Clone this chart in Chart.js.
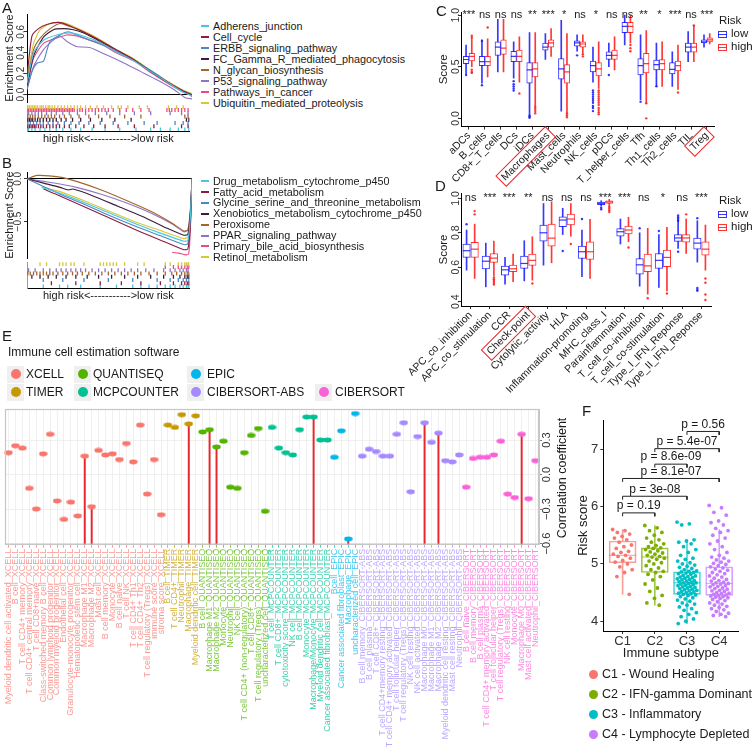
<!DOCTYPE html>
<html><head><meta charset="utf-8">
<script src="https://cdn.jsdelivr.net/npm/chart.js@4.4.1/dist/chart.umd.min.js"></script>
<style>
html,body{margin:0;padding:0;background:#fff;}
body{width:753px;height:756px;position:relative;overflow:hidden;font-family:"Liberation Sans",Arial,Helvetica,sans-serif;color:#1a1a1a;}
canvas{position:absolute;}
.t{position:absolute;white-space:nowrap;}
</style></head><body>
<script>
// ================= DATA =================
// ---- Panel A: GSEA running enrichment score (rank %, ES) ----
const gseaNamesA = ['Adherens_junction','Cell_cycle','ERBB_signaling_pathway','FC_Gamma_R_mediated_phagocytosis','N_glycan_biosynthesis','P53_signaling_pathway','Pathways_in_cancer','Ubiquitin_mediated_proteolysis'];
const esAdherens = [[0,0.11],[4,0.40],[10,0.52],[18,0.57],[26,0.59],[34,0.56],[44,0.50],[54,0.41],[65,0.32],[75,0.22],[85,0.12],[95,0.02],[100,-0.01]];
const esCellCycle = [[0,0.17],[3,0.56],[7,0.63],[12,0.67],[19,0.69],[24,0.67],[34,0.60],[44,0.52],[54,0.43],[65,0.33],[75,0.22],[85,0.12],[95,0.03],[100,0]];
const esErbb = [[0,0.05],[3,0.22],[6,0.30],[10,0.32],[12,0.42],[14,0.51],[20,0.57],[25,0.60],[30,0.57],[38,0.52],[48,0.46],[59,0.38],[69,0.29],[79,0.19],[89,0.08],[97,0.02],[100,-0.02]];
const esFcGamma = [[0,0.08],[4,0.37],[10,0.55],[16,0.62],[22,0.63],[28,0.62],[34,0.59],[44,0.51],[54,0.42],[65,0.33],[75,0.22],[85,0.12],[95,0.03],[100,0]];
const esNGlycan = [[0,0.14],[4,0.43],[8,0.54],[14,0.63],[20,0.68],[26,0.65],[34,0.60],[44,0.52],[54,0.43],[65,0.33],[75,0.22],[85,0.12],[95,0.03],[100,0]];
const esP53 = [[0,0.05],[4,0.27],[10,0.43],[16,0.52],[20,0.56],[24,0.51],[30,0.46],[38,0.45],[48,0.38],[59,0.30],[69,0.22],[79,0.14],[89,0.05],[96,-0.03],[100,-0.04]];
const esPathways = [[0,0.06],[4,0.35],[10,0.49],[16,0.53],[24,0.57],[30,0.56],[36,0.53],[44,0.49],[54,0.40],[65,0.32],[75,0.21],[85,0.11],[95,0.02],[100,-0.01]];
const esUbiquitin = [[0,0.17],[4,0.49],[8,0.62],[14,0.68],[19,0.69],[24,0.68],[34,0.61],[44,0.53],[54,0.43],[65,0.34],[75,0.23],[85,0.13],[95,0.04],[100,0.01]];
const hitsAdherens = [1,3,5,8,11,14,18,22,27,33,40,48,57,67,76,82,88,93,97,99.5];
const hitsCellCycle = [0.5,1.5,2.5,3.5,4.5,5.5,7,8.5,10,12,14,16,18,20,23,26,30,35,41,48,56,66,78,95,99];
const hitsErbb = [0.5,2,4,6,8,10,13,16,19,23,27,32,38,45,53,62,72,80,91,96,99];
const hitsFcGamma = [0.5,1.5,2.5,3.5,5,6.5,8,10,12,14,16,18,21,24,28,33,39,46,54,64,98,99.5];
const hitsNGlycan = [0.5,2,3.5,5,7,9,11,13,15,17,20,23,27,32,38,44,51,60,70,97,99];
const hitsP53 = [1,3,5,7,9,12,15,18,22,26,31,36,42,49,57,66,76,88,95,99];
const hitsPathways = [0,1,2,3,4,5,6,7,8,9,10,11,12,13,14,15,16,17,18,19,20,21,22,23,24,25,26,27,28,29,31,32.5,34,36,38,40,42,44,46,48,50,53,57,61,65,70,75,86,87.5,89,91,93,95,97,99];
const hitsUbiquitin = [0.5,1.5,2.5,3.5,4.5,5.5,6.5,8,9,10,11.5,13,14,15.5,17,19,21,23,25,27,29,31,33,36,39,43,47,52,56,58,62,69,74,87,92,96];

// ---- Panel B ----
const gseaNamesB = ['Drug_metabolism_cytochrome_p450','Fatty_acid_metabolism','Glycine_serine_and_threonine_metabolism','Xenobiotics_metabolism_cytochrome_p450','Peroxisome','PPAR_signaling_pathway','Primary_bile_acid_biosynthesis','Retinol_metabolism'];
const esDrug = [[9,-0.10],[20,-0.17],[35,-0.28],[50,-0.40],[65,-0.52],[80,-0.63],[95,-0.73],[97.5,-0.72],[99,-0.45],[100,0]];
const esFatty = [[10,-0.12],[20,-0.20],[35,-0.33],[50,-0.46],[65,-0.59],[80,-0.71],[95,-0.83],[97.5,-0.82],[99,-0.55],[100,0]];
const esGlycine = [[0,0],[9,-0.08],[20,-0.18],[35,-0.30],[50,-0.43],[65,-0.55],[80,-0.66],[95,-0.77],[97.5,-0.76],[99,-0.50],[100,0]];
const esXeno = [[0,0],[10,-0.05],[20,-0.10],[25,-0.13],[28,-0.12],[40,-0.20],[55,-0.32],[70,-0.44],[85,-0.58],[95,-0.66],[97.5,-0.65],[99,-0.40],[100,0]];
const esPerox = [[0,0],[6,0.04],[20,0.02],[30,-0.03],[45,-0.13],[60,-0.25],[75,-0.38],[88,-0.52],[95,-0.61],[97.5,-0.60],[99,-0.40],[100,0]];
const esPpar = [[0,0],[10,-0.03],[20,-0.06],[30,-0.10],[45,-0.18],[60,-0.28],[75,-0.40],[88,-0.53],[95,-0.62],[97.5,-0.60],[99,-0.35],[100,0]];
const esBile = [[88,-0.86],[92,-0.87],[96,-0.89],[98,-0.88],[99,-0.60],[100,0]];
const esRetinol = [[9,-0.10],[20,-0.15],[35,-0.26],[50,-0.38],[65,-0.50],[80,-0.60],[95,-0.70],[97.5,-0.68],[99,-0.40],[100,0]];
const hitsDrug = [10,20,25,33,45,55,65,70,75,80,85,88,91,94,96,98,99,99.5];
const hitsFatty = [15,30,45,58,70,82,90,95,97,98.5,99.5];
const hitsGlycine = [10,22,35,50,65,80,88,93,96,98,99.5];
const hitsXeno = [3,8,13,18,24,30,37,44,52,60,68,76,84,90,94,97,98.5,99.5];
const hitsPerox = [0.5,2,4,6,8,10,12,14,16,19,22,25,28,31,34,38,42,46,50,54,58,62,66,70,75,80,85,89,92,95,97,98.5,99.5];
const hitsPpar = [1,5,10,14,18,21,24,27,30,33,36,40,44,48,52,56,60,64,68,73,78,84,88,91,94,96,98,99];
const hitsBile = [85,90,93,95,97,98.5,99.5];
const hitsRetinol = [8,12,20,22,24,27,29,35,45,47,49,51,53,55,60,68,72,85,88,93,95,97,98,99,99.5];

// ---- Panel C: immune cell scores [min,q1,median,q3,max] ----
const cCats = ['aDCs','B_cells','CD8+_T_cells','DCs','iDCs','Macrophages','Mast_cells','Neutrophils','NK_cells','pDCs','T_helper_cells','Tfh','Th1_cells','Th2_cells','TIL','Treg'];
const cLowStats = [[0.43,0.53,0.57,0.60,0.71],[0.34,0.51,0.55,0.60,0.76],[0.45,0.61,0.69,0.74,0.96],[0.39,0.55,0.60,0.65,0.74],[0.03,0.34,0.47,0.54,0.83],[0.57,0.66,0.69,0.73,0.82],[0.07,0.38,0.48,0.58,0.95],[0.65,0.70,0.73,0.75,0.81],[0.35,0.45,0.51,0.555,0.69],[0.50,0.57,0.61,0.645,0.73],[0.71,0.83,0.89,0.93,1.00],[0.18,0.42,0.51,0.58,0.81],[0.31,0.47,0.52,0.565,0.73],[0.31,0.43,0.475,0.54,0.645],[0.55,0.64,0.69,0.73,0.84],[0.69,0.73,0.74,0.76,0.81]];
const cHighStats = [[0.50,0.555,0.60,0.63,0.77],[0.40,0.51,0.55,0.60,0.77],[0.45,0.62,0.68,0.76,0.96],[0.35,0.55,0.60,0.66,0.79],[0.12,0.40,0.48,0.54,0.83],[0.60,0.69,0.73,0.76,0.87],[0.06,0.34,0.45,0.52,0.82],[0.63,0.69,0.72,0.74,0.81],[0.29,0.41,0.48,0.54,0.74],[0.47,0.57,0.61,0.66,0.79],[0.73,0.83,0.89,0.93,1.00],[0.15,0.44,0.53,0.63,0.85],[0.31,0.47,0.53,0.57,0.74],[0.28,0.46,0.51,0.555,0.71],[0.55,0.64,0.69,0.73,0.90],[0.72,0.74,0.76,0.78,0.82]];
const cLowOut = [[0,0.42],[1,0.75],[1,0.32],[3,0.36],[3,0.33],[3,0.31],[3,0.29],[3,0.27],[4,0.025],[4,0.015],[4,0.005],[7,0.61],[8,0.27],[8,0.25],[8,0.23],[8,0.21],[8,0.19],[8,0.17],[8,0.15],[8,0.12],[8,0.10],[8,0.07],[9,0.42],[11,0.16],[12,0.31]];
const cHighOut = [[0,0.80],[0,0.78],[0,0.47],[0,0.45],[0,0.44],[1,0.88],[3,0.24],[4,0.11],[4,0.09],[4,0.07],[4,0.05],[6,0.05],[6,0.03],[6,0.01],[7,0.62],[7,0.60],[8,0.27],[8,0.25],[8,0.23],[8,0.21],[8,0.19],[8,0.17],[8,0.15],[8,0.13],[8,0.10],[8,0.08],[8,0.06],[8,0.04],[10,0.71],[10,0.68],[10,0.65],[11,0.145],[11,0.0],[13,0.25],[14,0.90]];
const cSig = ['***','ns','ns','ns','**','***','*','ns','*','ns','ns','**','*','***','ns','***'];

// ---- Panel D: immune function scores ----
const dCats = ['APC_co_inhibition','APC_co_stimulation','CCR','Check-point','Cytolytic_activity','HLA','Inflammation-promoting','MHC_class_I','Parainflammation','T_cell_co-inhibition','T_cell_co-stimulation','Type_I_IFN_Reponse','Type_II_IFN_Reponse'];
const dLowStats = [[0.583,0.657,0.696,0.735,0.816],[0.486,0.59,0.635,0.665,0.74],[0.502,0.554,0.585,0.607,0.657],[0.521,0.593,0.622,0.665,0.754],[0.612,0.752,0.80,0.845,0.97],[0.79,0.835,0.874,0.893,0.942],[0.545,0.651,0.69,0.723,0.816],[0.955,0.963,0.971,0.979,0.986],[0.735,0.781,0.806,0.824,0.88],[0.49,0.56,0.614,0.651,0.80],[0.483,0.593,0.64,0.68,0.79],[0.709,0.75,0.77,0.79,0.875],[0.63,0.705,0.74,0.77,0.87]];
const dHighStats = [[0.535,0.657,0.705,0.744,0.85],[0.548,0.628,0.653,0.68,0.752],[0.516,0.574,0.591,0.612,0.676],[0.525,0.61,0.64,0.676,0.777],[0.626,0.723,0.769,0.851,0.98],[0.78,0.845,0.88,0.909,0.97],[0.535,0.645,0.69,0.748,0.878],[0.955,0.971,0.979,0.986,0.994],[0.748,0.793,0.816,0.839,0.89],[0.444,0.574,0.608,0.676,0.826],[0.463,0.603,0.657,0.70,0.831],[0.68,0.745,0.77,0.79,0.88],[0.583,0.67,0.705,0.748,0.845]];
const dLowOut = [[0,0.85],[5,0.694],[6,0.88],[7,0.936],[7,0.945],[9,0.826],[10,0.81],[11,0.90],[11,0.89],[11,0.88],[11,0.87],[11,0.69],[12,0.885],[12,0.48],[12,0.47],[12,0.463]];
const dHighOut = [[0,0.926],[0,0.907],[1,0.54],[1,0.53],[1,0.52],[1,0.51],[1,0.50],[3,0.506],[5,0.735],[7,0.95],[7,0.94],[7,0.93],[7,0.92],[8,0.715],[9,0.42],[10,0.448],[11,0.907],[12,0.535],[12,0.51],[12,0.442],[12,0.41]];
const dSig = ['ns','***','***','**','ns','ns','ns','***','***','ns','*','ns','***'];

// ---- Panel E: correlation with risk score ----
const eSoftware = ['XCELL','TIMER','QUANTISEQ','MCPCOUNTER','EPIC','CIBERSORT-ABS','CIBERSORT'];
const eXcellNames = ['Myeloid dendritic cell activated','B cell','T cell CD4+ memory','T cell CD4+ central memory','T cell CD8+naive','Class-switched memory B cell','Common lymphoid progenitor','Common myeloid progenitor','Endothelial cell','Granulocyte-monocyte progenitor','Hematopoietic stem cell','Macrophage M1','Macrophage M2','Mast cell','B cell memory','Monocyte','B cell naive','T cell NK','T cell CD4+ Th1','T cell CD4+ Th2','T cell regulatory (Tregs)','immune score','stroma score'];
const eXcell = [0.19,0.25,0.23,-0.12,-0.30,0.18,0.35,-0.23,-0.39,-0.24,-0.36,0.16,-0.28,0.21,0.17,0.18,0.13,0.27,0.11,0.43,-0.17,0.13,-0.35];
const eTimerNames = ['B cell','T cell CD4+','Neutrophil','Macrophage','Myeloid dendritic cell'];
const eTimer = [0.43,0.41,0.52,0.44,0.51];
const eQuantNames = ['B cell','Macrophage M1','Macrophage M2','Monocyte','Neutrophil','NK cell','T cell CD4+ (non-regulatory)','T cell CD8+','T cell regulatory (Tregs)','uncharacterized cell'];
const eQuant = [0.37,0.39,0.24,0.29,-0.11,-0.12,0.19,0.34,0.40,-0.32];
const eMcpNames = ['T cell','T cell CD8+','cytotoxicity score','NK cell','B cell','Monocyte','Macrophage/Monocyte','Myeloid dendritic cell','Cancer associated fibroblast'];
const eMcp = [0.41,0.23,0.19,0.17,0.39,0.50,0.50,0.30,0.30];
const eEpicNames = ['Bcell','Cancer associated fibroblast','Macrophage','uncharacterized cell'];
const eEpic = [0.15,0.38,-0.56,0.53];
const eAbsNames = ['B cell memory','B cell plasma','T cell CD8+','T cell CD4+memory resting','T cell CD4+ memory activated','T cell follicular helper','T cell regulatory (Tregs)','NK cell resting','NK cell activated','Macrophage M0','Macrophage M1','Macrophage M2','Myeloid dendritic cell resting','Mast cell resting','Neutrophil'];
const eAbs = [0.16,0.22,0.20,0.16,0.16,0.35,0.45,-0.15,0.33,0.45,0.28,0.36,0.12,0.11,0.17];
const eCibNames = ['B cell naive','B cell memory','B cell plasma','T cell CD4+ memory activated','T cell follicular helper','T cell regulatory (Tregs)','NK cell resting','Monocyte','Macrophage M0','Mast cell activated','Neutrophil'];
const eCib = [-0.11,0.14,0.15,0.15,0.17,0.29,-0.17,-0.20,0.35,-0.21,0.12];
const eStemNames = ['Macrophage M1_XCELL','Macrophage M2_XCELL','Macrophage_TIMER','Macrophage M1_QUANTISEQ','Macrophage M2_QUANTISEQ','Macrophage/Monocyte_MCPCOUNTER','Macrophage_EPIC','Macrophage M0_CIBERSORT-ABS','Macrophage M2_CIBERSORT-ABS','Macrophage M0_CIBERSORT'];
const eYTicks = [-0.6,-0.3,0,0.3];

// ---- Panel F: risk score by immune subtype ----
const fGroups = ['C1','C2','C3','C4'];
const fLegend = ['C1 - Wound Healing','C2 - IFN-gamma Dominant','C3 - Inflammatory','C4 - Lymphocyte Depleted'];
const fStats = [[4.47,5.02,5.15,5.40,5.60],[4.28,4.85,5.12,5.28,5.67],[3.96,4.47,4.67,4.86,5.42],[4.08,4.45,4.66,4.95,5.60]];
const fC1 = [5.60,5.58,5.55,5.52,5.48,5.45,5.42,5.38,5.33,5.30,5.27,5.22,5.20,5.17,5.15,5.13,5.10,5.06,5.03,5.00,4.95,4.90,4.85,4.78,4.47];
const fC2 = [5.67,5.63,5.58,5.55,5.50,5.45,5.42,5.38,5.35,5.32,5.30,5.28,5.27,5.25,5.23,5.21,5.19,5.17,5.15,5.13,5.12,5.10,5.08,5.05,5.02,5.00,4.97,4.93,4.90,4.87,4.85,4.82,4.78,4.72,4.65,4.58,4.52,4.45,4.40,4.32,4.28];
const fC3 = [5.73,5.70,5.68,5.42,5.40,5.38,5.35,5.30,5.25,5.20,5.15,5.10,5.08,5.05,5.02,5.00,4.98,4.96,4.94,4.92,4.90,4.88,4.87,4.86,4.85,4.84,4.83,4.82,4.80,4.79,4.78,4.77,4.76,4.75,4.74,4.73,4.72,4.71,4.70,4.69,4.68,4.67,4.67,4.66,4.65,4.64,4.63,4.62,4.61,4.60,4.59,4.58,4.57,4.56,4.55,4.54,4.53,4.52,4.51,4.50,4.49,4.48,4.47,4.46,4.45,4.43,4.41,4.39,4.37,4.35,4.32,4.30,4.28,4.25,4.22,4.19,4.15,4.12,4.08,4.04,4.00,3.96];
const fC4 = [6.02,5.98,5.90,5.85,5.75,5.72,5.68,5.62,5.58,5.55,5.50,5.45,5.40,5.35,5.30,5.25,5.20,5.15,5.12,5.10,5.07,5.05,5.03,5.01,4.99,4.97,4.95,4.93,4.91,4.89,4.87,4.85,4.83,4.81,4.79,4.77,4.75,4.73,4.71,4.70,4.68,4.67,4.66,4.65,4.64,4.62,4.61,4.60,4.58,4.57,4.56,4.54,4.53,4.52,4.50,4.49,4.48,4.47,4.46,4.45,4.44,4.43,4.42,4.41,4.40,4.38,4.36,4.34,4.32,4.30,4.28,4.26,4.24,4.22,4.20,4.17,4.14,4.12,4.10,4.08];
const fPairs = [[1,2],[1,3],[1,4],[2,3],[2,4],[3,4]];
const fPText = ['p = 0.19','p = 3e-08','p = 8.1e-07','p = 8.6e-09','p = 5.4e-07','p = 0.56'];
const fPY = [5.89,6.18,6.49,6.74,7.01,7.31];

// ================= STYLE / HELPERS =================
const FONT = "'Liberation Sans', Arial, Helvetica, sans-serif";
const colGsea = ['#47c7dd','#8c1d40','#4b87c6','#3b1d3c','#a3662b','#8f74c5','#ef4a80','#d8c63b'];
const colLow = 'rgba(20,20,255,0.85)', colHigh = 'rgba(255,20,20,0.85)';
const eColors = ['#F8766D','#C49A00','#53B400','#00C094','#00B6EB','#A58AFF','#FB61D7'];
const fColors = ['#F8766D','#7CAE00','#00BFC4','#C77CFF'];
const fBoxColors = ['rgba(248,118,109,0.7)','rgba(124,174,0,0.7)','rgba(0,191,196,0.7)','rgba(199,124,255,0.7)'];

Chart.defaults.font.family = FONT;
Chart.defaults.color = '#1a1a1a';
Chart.defaults.animation = false;
Chart.defaults.responsive = false;
Chart.defaults.maintainAspectRatio = false;
Chart.defaults.plugins.legend.display = false;
Chart.defaults.plugins.tooltip.enabled = false;
Chart.defaults.events = [];

const annotPlugin = { id:'annot', afterDatasetsDraw(chart, args, o){
  if(!o || !o.items) return; const ctx = chart.ctx; ctx.save();
  ctx.font = o.font; ctx.fillStyle = o.color || '#1a1a1a'; ctx.textAlign='center'; ctx.textBaseline='middle';
  for(const it of o.items){ const px = chart.scales.x.getPixelForValue(it.x), py = chart.scales.y.getPixelForValue(it.y);
    ctx.fillText(it.text, px, py + (o.dy||0)); }
  ctx.restore(); } };
const framePlugin = { id:'frame', afterDraw(chart, args, o){
  if(!o || !o.color) return; const a = chart.chartArea, ctx = chart.ctx; ctx.save();
  ctx.strokeStyle = o.color; ctx.lineWidth = o.width||1; ctx.strokeRect(a.left+0.5, a.top+0.5, a.right-a.left-1, a.bottom-a.top-1); ctx.restore(); } };
const labelBoxPlugin = { id:'labelBox', afterDraw(chart, args, o){
  if(!o || !o.indices) return; const sc = chart.scales.x; const items = sc.getLabelItems(); const ctx = chart.ctx;
  for(const idx of o.indices){ const it = items[idx]; if(!it) continue; ctx.save();
    ctx.translate(it.options.translation[0], it.options.translation[1]); ctx.rotate(it.options.rotation);
    ctx.font = it.font.string; const w = ctx.measureText(it.label).width; const fs = it.font.size;
    ctx.strokeStyle = o.color; ctx.lineWidth = 1;
    ctx.strokeRect(-w-3, it.textOffset - fs/2 - 2, w+6, fs+4); ctx.restore(); } } };
Chart.register(annotPlugin, framePlugin, labelBoxPlugin);

function mkCanvas(l,t,w,h){ const c=document.createElement('canvas'); c.width=w; c.height=h;
  c.style.left=l+'px'; c.style.top=t+'px'; c.style.width=w+'px'; c.style.height=h+'px'; document.body.appendChild(c); return c; }
const fmt1 = v => (v < -1e-9 ? '\u2212' : '') + Math.abs(v).toFixed(1);
const setTicks = arr => s => { s.ticks = arr.map(v => ({value:v})); };
function txt(x, cy, s, size, color){ const d=document.createElement('div'); d.className='t'; d.textContent=s;
  d.style.left=x+'px'; d.style.top=(cy-size*0.5)+'px'; d.style.fontSize=size+'px'; d.style.lineHeight=size+'px';
  if(color) d.style.color=color; document.body.appendChild(d); return d; }
function box(x,y,w,h,css){ const d=document.createElement('div'); d.style.cssText=`position:absolute;left:${x}px;top:${y}px;width:${w}px;height:${h}px;${css}`; document.body.appendChild(d); return d; }

// ================= PANEL A / B =================
function gseaChart(top, h, padT, padB, yMin, yMax, yTicks, curves){
  return new Chart(mkCanvas(0, top, 195, h), { type:'line',
    data:{ datasets: curves.map((d,k)=>({ data:d.map(p=>({x:p[0], y:p[1]})), borderColor:colGsea[k], borderWidth:1.1, pointRadius:0, tension:0.2, fill:false })) },
    options:{ devicePixelRatio:1, layout:{padding:{top:padT, right:3, bottom:padB, left:0}},
      scales:{ x:{type:'linear', min:0, max:100, display:false},
        y:{type:'linear', min:yMin, max:yMax, afterBuildTicks:setTicks(yTicks), afterFit:s=>{s.width=27;},
          border:{display:true, color:'#000', width:1},
          grid:{color:c=>(c.tick && Math.abs(c.tick.value)<1e-9)?'#000':'rgba(0,0,0,0)', lineWidth:1, tickColor:'#333', tickLength:3},
          ticks:{minRotation:90, maxRotation:90, crossAlign:'center', padding:-4, font:{size:10}, color:'#333', callback:v=>fmt1(v)},
          title:{display:true, text:'Enrichment Score', font:{size:11}, color:'#1a1a1a', padding:{top:3, bottom:0}} } } } });
}
function rugChart(top, rows){
  return new Chart(mkCanvas(0, top, 195, 50), { type:'scatter',
    data:{ datasets: rows.map((r,i)=>({ data:r.hits.map(x=>({x, y:i})), pointStyle:'line', pointRotation:90, pointRadius:2, pointBorderColor:r.color, pointBackgroundColor:r.color, pointBorderWidth:1.3 })) },
    options:{ devicePixelRatio:1, layout:{padding:{top:2, right:3, left:0, bottom:0}},
      scales:{ x:{type:'linear', min:0, max:100, afterFit:s=>{s.height=19;}, grid:{display:false}, ticks:{display:false}, border:{display:true, color:'#000'},
          title:{display:true, text:'high risk<----------->low risk', font:{size:11}, color:'#1a1a1a', padding:{top:0, bottom:4}}},
        y:{type:'linear', min:-0.5, max:7.5, reverse:true, afterFit:s=>{s.width=27;}, grid:{display:false}, ticks:{display:false}, border:{display:true, color:'#999'}} } } });
}
gseaChart(0, 104, 14, 2, -0.07, 0.77, [0,0.2,0.4,0.6], [esAdherens, esCellCycle, esErbb, esFcGamma, esNGlycan, esP53, esPathways, esUbiquitin]);
const hitsA = [hitsAdherens, hitsCellCycle, hitsErbb, hitsFcGamma, hitsNGlycan, hitsP53, hitsPathways, hitsUbiquitin];
rugChart(100, hitsA.map((h,k)=>({hits:h, color:colGsea[k]})).reverse());
gseaChart(160, 100, 12, 2, -0.927, 0.08, [-0.5,0], [esDrug, esFatty, esGlycine, esXeno, esPerox, esPpar, esBile, esRetinol]);
const hitsB = [hitsDrug, hitsFatty, hitsGlycine, hitsXeno, hitsPerox, hitsPpar, hitsBile, hitsRetinol];
rugChart(257, hitsB.map((h,k)=>({hits:h, color:colGsea[k]})).reverse());

gseaNamesA.forEach((n,k)=>{ box(201, 26+k*11-1, 8, 2, 'background:'+colGsea[k]); txt(213, 26+k*11, n, 10.8); });
gseaNamesB.forEach((n,k)=>{ box(201, 181+k*10.9-1, 8, 2, 'background:'+colGsea[k]); txt(213, 181+k*10.9, n, 10.8); });

// ================= PANEL C / D =================
function boxChart(o){
  const ds = [];
  [[o.low, o.lowOut, -o.off, colLow], [o.high, o.highOut, o.off, colHigh]].forEach(([st, out, off, col])=>{
    ds.push({type:'scatter', order:0, data:out.map(p=>({x:p[0]+off, y:p[1]})), pointRadius:1.2, pointBackgroundColor:col, pointBorderWidth:0});
    ds.push({type:'scatter', order:1, data:st.map((d,i)=>({x:i+off, y:d[2]})), pointStyle:'line', pointRadius:o.bw/2, pointBorderColor:col, pointBorderWidth:1.2});
    ds.push({type:'bar', order:2, grouped:false, barThickness:o.bw, data:st.map((d,i)=>({x:i+off, y:[d[1], d[3]]})), backgroundColor:'#fff', borderColor:col, borderWidth:1, borderSkipped:false});
    ds.push({type:'bar', order:3, grouped:false, barThickness:1, data:st.map((d,i)=>({x:i+off, y:[d[0], d[4]]})), backgroundColor:col, borderWidth:0});
  });
  return new Chart(mkCanvas(o.left, o.top, o.w, o.h), { type:'bar', data:{datasets:ds},
    options:{ devicePixelRatio:1, layout:{padding:{top:o.padT, right:o.padR, left:0, bottom:0}},
      scales:{ x:{type:'linear', min:-0.5, max:o.cats.length-0.5, offset:false, afterBuildTicks:setTicks(o.cats.map((c,i)=>i)), afterFit:s=>{s.height=o.xh;},
          grid:{drawOnChartArea:false, offset:false, color:'#333', tickLength:3}, border:{display:true, color:'#000'},
          ticks:{autoSkip:false, minRotation:45, maxRotation:45, padding:0, font:{size:10.5}, color:'#1a1a1a', callback:(v,i)=>o.cats[i]}},
        y:{type:'linear', min:o.yMin, max:o.yMax, beginAtZero:false, afterBuildTicks:setTicks(o.yTicks), afterFit:s=>{s.width=o.yw;},
          grid:{drawOnChartArea:false, color:'#333', tickLength:3}, border:{display:true, color:'#000'},
          ticks:{minRotation:90, maxRotation:90, crossAlign:'center', padding:o.tickPad, font:{size:10.5}, color:'#333', callback:v=>v.toFixed(1)},
          title:{display:true, text:'Score', font:{size:11.5}, color:'#1a1a1a', padding:{top:o.titlePad, bottom:0}} } },
      plugins:{ annot:{ font:'11px '+FONT, items:o.cats.map((c,i)=>({x:i, y:o.sigY, text:o.sig[i]})) },
        labelBox:{ indices:o.boxIdx, color:'#e8272a' } } } });
}
boxChart({left:430, top:0, w:290, h:200, padT:12, padR:3, yw:31, xh:73.4, cats:cCats, low:cLowStats, high:cHighStats, lowOut:cLowOut, highOut:cHighOut,
  sig:cSig, sigY:1.0, yMin:-0.08, yMax:1.03, yTicks:[0,0.5,1.0], off:0.18, bw:5.6, titlePad:7, tickPad:-5, boxIdx:[5,15]});
boxChart({left:400, top:180, w:320, h:215, padT:13, padR:9, yw:61, xh:89, cats:dCats, low:dLowStats, high:dHighStats, lowOut:dLowOut, highOut:dHighOut,
  sig:dSig, sigY:1.005, yMin:0.375, yMax:1.031, yTicks:[0.4,0.6,0.8,1.0], off:0.21, bw:7.5, titlePad:37, tickPad:-5, boxIdx:[3]});

function riskLegend(cy){
  txt(719, cy, 'Risk', 11.5);
  [['low', colLow, cy+13],['high', colHigh, cy+26]].forEach(([t,c,y])=>{
    box(718, y-3.5, 9, 7, `box-sizing:border-box;border:1px solid ${c};background:linear-gradient(to bottom,transparent 2.5px,${c} 2.5px,${c} 3.5px,transparent 3.5px);`);
    txt(731, y, t, 11.5);
  });
}
riskLegend(21); riskLegend(201);

// ================= PANEL E =================
const eGroupNames = [eXcellNames, eTimerNames, eQuantNames, eMcpNames, eEpicNames, eAbsNames, eCibNames];
const eGroupVals = [eXcell, eTimer, eQuant, eMcp, eEpic, eAbs, eCib];
const eLabels = [], eValues = [], eGroup = [];
eGroupNames.forEach((names,g)=>names.forEach((n,i)=>{ eLabels.push(n+'_'+eSoftware[g]); eValues.push(eGroupVals[g][i]); eGroup.push(g); }));
const eAxisMin = -0.61, eAxisMax = 0.57;
function ellipseImg(color){ const c=document.createElement('canvas'); c.width=9; c.height=6; const g=c.getContext('2d');
  g.fillStyle=color; g.beginPath(); g.ellipse(4.5,3,4.2,2.4,0,0,Math.PI*2); g.fill(); return c; }
const eImgs = eColors.map(ellipseImg);
const hexA = (h,a)=>{ const n=parseInt(h.slice(1),16); return `rgba(${n>>16},${(n>>8)&255},${n&255},${a})`; };
const eLabelColors = eColors.map(c=>hexA(c,0.75));
const isMajorE = v => eYTicks.some(m=>Math.abs(m-v)<1e-6);
new Chart(mkCanvas(0, 400, 570, 356), { type:'bar',
  data:{ labels:eLabels, datasets:[
    {type:'line', order:0, data:eValues, showLine:false, pointStyle:eGroup.map(g=>eImgs[g]), pointRadius:4},
    {type:'bar', order:1, grouped:false, data:eValues.map((v,i)=>eStemNames.includes(eLabels[i]) ? [eAxisMin, v] : null), backgroundColor:'#e8262b', barThickness:1.3, borderWidth:0}
  ]},
  options:{ devicePixelRatio:1, layout:{padding:{top:9, left:4, right:0, bottom:0}},
    scales:{ x:{type:'category', offset:true, afterFit:s=>{s.height=211.3;},
        grid:{offset:false, color:'#e9e9e9', lineWidth:0.7, tickLength:3, tickColor:c=>eColors[eGroup[c.index]]||'#ccc'},
        border:{display:true, color:'#c6c6c6'},
        ticks:{autoSkip:false, minRotation:90, maxRotation:90, padding:1, font:{size:9}, color:c=>eLabelColors[eGroup[c.index]]||'#999'}},
      y:{position:'right', min:eAxisMin, max:eAxisMax, beginAtZero:false, afterBuildTicks:setTicks([-0.6,-0.45,-0.3,-0.15,0,0.15,0.3,0.45]), afterFit:s=>{s.width=31;},
        grid:{color:'#e9e9e9', lineWidth:0.7, tickLength:3, tickColor:c=>(c.tick && isMajorE(c.tick.value))?'#444':'rgba(0,0,0,0)'},
        border:{display:true, color:'#c6c6c6'},
        ticks:{minRotation:90, maxRotation:90, crossAlign:'center', padding:-6, font:{size:11}, color:'#333', callback:v=>isMajorE(v)?fmt1(v):''}} },
    plugins:{ frame:{color:'#c6c6c6', width:1.2} } } });
const corrT = txt(562, 478, 'Correlation coefficient', 12.5);
corrT.style.transform='translate(-50%,-50%) rotate(-90deg)'; corrT.style.top='478px'; corrT.style.left='562px';

txt(8, 352, 'Immune cell estimation software', 12);
const eLegPos = [[0,0],[0,1],[1,0],[1,1],[2,0],[2,1],[3,1]];
const eKeyX = [7,74,187,315], eTextX = [26,93,207,335], eRowY = [374,392];
eSoftware.forEach((s,g)=>{ const [c,r] = eLegPos[g];
  box(eKeyX[c], eRowY[r]-8.5, 17, 17, 'background:#efefef');
  box(eKeyX[c]+3.5, eRowY[r]-5, 10, 10, 'border-radius:50%;background:'+eColors[g]);
  txt(eTextX[c], eRowY[r], s, 12); });

// ================= PANEL F =================
const fPoints = [fC1, fC2, fC3, fC4];
const jit = i => (((i*0.6180339887) % 1) - 0.5) * 0.62;
const fDs = [];
fPoints.forEach((pts,g)=>fDs.push({type:'scatter', order:0, data:pts.map((v,i)=>({x:g+1+jit(i), y:v})), pointRadius:1.9, pointBackgroundColor:fColors[g], pointBorderWidth:0}));
fDs.push({type:'scatter', order:1, data:fStats.map((d,i)=>({x:i+1, y:d[2]})), pointStyle:'line', pointRadius:13.5, pointBorderColor:fBoxColors, pointBorderWidth:1});
fDs.push({type:'bar', order:2, grouped:false, barThickness:27, data:fStats.map((d,i)=>({x:i+1, y:[d[1], d[3]]})), backgroundColor:'rgba(255,255,255,0)', borderColor:fBoxColors, borderWidth:1, borderSkipped:false});
fDs.push({type:'bar', order:3, grouped:false, barThickness:1, data:fStats.map((d,i)=>({x:i+1, y:[d[0], d[1]]})), backgroundColor:fBoxColors, borderWidth:0});
fDs.push({type:'bar', order:3, grouped:false, barThickness:1, data:fStats.map((d,i)=>({x:i+1, y:[d[3], d[4]]})), backgroundColor:fBoxColors, borderWidth:0});
fPairs.forEach((p,k)=>{ const y=fPY[k]; fDs.push({type:'line', order:0, data:[{x:p[0], y:y-0.06},{x:p[0], y},{x:p[1], y},{x:p[1], y:y-0.06}], borderColor:'#222', borderWidth:1, pointRadius:0, tension:0, fill:false}); });
new Chart(mkCanvas(570, 400, 183, 265), { type:'bar', data:{datasets:fDs},
  options:{ devicePixelRatio:1, layout:{padding:{top:20, right:1.7, left:0, bottom:0}},
    scales:{ x:{type:'linear', min:0.4, max:4.6, offset:false, afterBuildTicks:setTicks([1,2,3,4]), afterFit:s=>{s.height=34;},
        grid:{drawOnChartArea:false, offset:false, color:'#333', tickLength:3}, border:{display:true, color:'#000'},
        ticks:{padding:0, font:{size:13}, color:'#333', callback:(v,i)=>fGroups[i]},
        title:{display:true, text:'Immune subtype', font:{size:13}, color:'#1a1a1a', padding:{top:0, bottom:4}}},
      y:{type:'linear', min:3.83, max:7.51, beginAtZero:false, afterBuildTicks:setTicks([4,5,6,7]), afterFit:s=>{s.width=33.3;},
        grid:{drawOnChartArea:false, color:'#333', tickLength:3}, border:{display:true, color:'#000'},
        ticks:{padding:2, font:{size:13}, color:'#333', callback:v=>String(v)},
        title:{display:true, text:'Risk score', font:{size:13}, color:'#1a1a1a', padding:{top:5.5, bottom:0}}} },
    plugins:{ annot:{ font:'12px '+FONT, dy:-7, items:fPairs.map((p,k)=>({x:(p[0]+p[1])/2, y:fPY[k], text:fPText[k]})) } } } });
fLegend.forEach((t,k)=>{ const cy=674+20*k; box(588.5, cy-4.5, 9, 9, 'border-radius:50%;background:'+fColors[k]); txt(602, cy, t, 12.5); });

// ================= PANEL LETTERS =================
[['A',2,7],['B',2,162],['C',436,10],['D',435,185],['E',2,335],['F',582,410]].forEach(([l,x,y])=>txt(x,y,l,15));
</script>
</body></html>
